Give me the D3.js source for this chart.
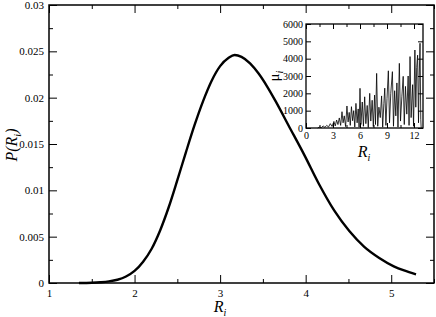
<!DOCTYPE html>
<html>
<head>
<meta charset="utf-8">
<script src="https://cdn.jsdelivr.net/npm/d3@7"></script>
<style>
  body { margin: 0; background: #fff; }
  svg, svg text { font-family: "Liberation Serif", "DejaVu Serif", serif; }
</style>
</head>
<body>
<div id="chart"></div>
<script>
// main curve: probability distribution of R_i
const radius = [1.35, 1.5, 1.6, 1.7, 1.8, 1.9, 2.0, 2.1, 2.2, 2.3, 2.4, 2.5, 2.6, 2.7, 2.8, 2.9, 3.0, 3.1, 3.17, 3.25,
    3.35, 3.45, 3.55, 3.65, 3.8, 3.985, 4.16, 4.335, 4.51, 4.685, 4.86, 5.03, 5.15, 5.29];
const prob = [0, 0.00003, 0.00008, 0.00017, 0.00035, 0.0007, 0.0013, 0.0023, 0.0037, 0.0057, 0.0082, 0.0111, 0.0141,
    0.017, 0.0196, 0.0218, 0.0234, 0.0243, 0.0246, 0.0244, 0.0237, 0.0226, 0.0212, 0.0196, 0.017, 0.0138, 0.0106,
    0.0078, 0.0056, 0.0039, 0.0027, 0.0018, 0.00135, 0.00094];

// inset: mu_i versus R_i
const insetR = [1.3, 1.5, 1.7, 1.9, 2.1, 2.3, 2.5, 2.7, 2.9, 3.1, 3.25, 3.4, 3.55, 3.7, 3.85, 4.0, 4.12, 4.25, 4.4, 4.55,
    4.68, 4.8, 4.92, 5.05, 5.18, 5.3, 5.42, 5.55, 5.68, 5.8, 5.9, 6.0, 6.1, 6.25, 6.38, 6.52, 6.65, 6.8, 6.92, 7.08,
    7.2, 7.35, 7.48, 7.62, 7.72, 7.85, 7.97, 8.1, 8.25, 8.4, 8.52, 8.65, 8.75, 8.88, 9.0, 9.15, 9.28, 9.42, 9.6, 9.72,
    9.85, 9.98, 10.1, 10.22, 10.37, 10.5, 10.65, 10.8, 10.92, 11.05, 11.2, 11.35, 11.45, 11.56, 11.68, 11.85, 11.95,
    12.1, 12.2, 12.3, 12.4, 12.5, 12.58, 12.67, 12.75, 12.8];
const insetMu = [0, 60, 20, 120, 40, 150, 60, 250, 90, 380, 120, 460, 200, 580, 150, 940, 300, 700, 80, 1270,
    350, 900, 150, 1230, 420, 1000, 60, 1420, 300, 1100, 50, 2290, 200, 1500, 100, 1800, 250, 1300, 30, 2000,
    400, 1600, 80, 1900, 200, 3150, 100, 1200, 600, 1850, 50, 1400, 2300, 150, 1700, 3300, 300, 2000, 3250, 100,
    2150, 700, 2600, 50, 3730, 400, 1800, 2980, 200, 2400, 800, 3000, 150, 4120, 600, 2500, 100,
    4500, 1200, 3500, 4200, 300, 3000, 4890, 500, 0];

const mainXTicks = [1, 2, 3, 4, 5];
const mainYTicks = [0, 0.005, 0.01, 0.015, 0.02, 0.025, 0.03];
const insetXTicks = [0, 3, 6, 9, 12];
const insetYTicks = [0, 1000, 2000, 3000, 4000, 5000, 6000];

const width = 436, height = 317;
const main = { left: 49, right: 434, top: 5, bottom: 283 };
const inset = { left: 306, right: 423, top: 24, bottom: 128 };
const serif = "Liberation Serif";

const svg = d3.select("#chart").append("svg")
    .attr("width", width)
    .attr("height", height);

const x = d3.scaleLinear().domain([1, 5.5]).range([main.left, main.right]);
const y = d3.scaleLinear().domain([0, 0.03]).range([main.bottom, main.top]);

// mirrored inward ticks on all four sides
function frameTicks(g, xs, ys, box, xVals, yVals, isMajorX, isMajorY, major, minor) {
    g.append("g").attr("transform", "translate(0," + box.bottom + ")")
        .call(d3.axisBottom(xs).tickValues(xVals).tickSize(0).tickFormat(""))
        .selectAll("line").attr("y2", d => isMajorX(d) ? -major : -minor);
    g.append("g").attr("transform", "translate(0," + box.top + ")")
        .call(d3.axisTop(xs).tickValues(xVals).tickSize(0).tickFormat(""))
        .selectAll("line").attr("y2", d => isMajorX(d) ? major : minor);
    g.append("g").attr("transform", "translate(" + box.left + ",0)")
        .call(d3.axisLeft(ys).tickValues(yVals).tickSize(0).tickFormat(""))
        .selectAll("line").attr("x2", d => isMajorY(d) ? major : minor);
    g.append("g").attr("transform", "translate(" + box.right + ",0)")
        .call(d3.axisRight(ys).tickValues(yVals).tickSize(0).tickFormat(""))
        .selectAll("line").attr("x2", d => isMajorY(d) ? -major : -minor);
    g.selectAll(".domain").remove();
    g.selectAll("line").attr("stroke", "#000").attr("stroke-width", 1);
}

frameTicks(svg.append("g"), x, y, main,
    d3.range(1, 5.51, 0.5), d3.range(0, 0.0301, 0.0025),
    d => mainXTicks.includes(d), d => mainYTicks.some(v => Math.abs(v - d) < 1e-9), 8, 4);

svg.append("g").attr("transform", "translate(0," + main.bottom + ")")
    .call(d3.axisBottom(x).tickValues(mainXTicks).tickSize(0).tickPadding(6).tickFormat(d3.format("d")))
    .call(g => g.select(".domain").remove())
    .attr("font-family", serif).attr("font-size", 11);

svg.append("g").attr("transform", "translate(" + main.left + ",0)")
    .call(d3.axisLeft(y).tickValues(mainYTicks).tickSize(0).tickPadding(5).tickFormat(d => d === 0 ? "0" : String(+d.toFixed(3))))
    .call(g => g.select(".domain").remove())
    .attr("font-family", serif).attr("font-size", 11);

const line = d3.line()
    .x((d, i) => x(radius[i]))
    .y(d => y(d))
    .curve(d3.curveMonotoneX);

svg.append("path")
    .datum(prob)
    .attr("fill", "none")
    .attr("stroke", "#000")
    .attr("stroke-width", 2.4)
    .attr("d", line);

svg.append("rect")
    .attr("x", main.left).attr("y", main.top)
    .attr("width", main.right - main.left).attr("height", main.bottom - main.top)
    .attr("fill", "none").attr("stroke", "#000").attr("stroke-width", 1.5);

// axis titles
const xTitle = svg.append("text")
    .attr("x", 220).attr("y", 312)
    .attr("text-anchor", "middle")
    .attr("font-size", 16).attr("font-style", "italic");
xTitle.append("tspan").text("R");
xTitle.append("tspan").attr("font-size", 10).attr("dy", 4).text("i");

const yTitle = svg.append("text")
    .attr("transform", "translate(17,145) rotate(-90)")
    .attr("text-anchor", "middle")
    .attr("font-size", 16).attr("font-style", "italic");
yTitle.append("tspan").text("P(R");
yTitle.append("tspan").attr("font-size", 10).attr("dy", 4).text("i");
yTitle.append("tspan").attr("dy", -4).text(")");

// inset
const ix = d3.scaleLinear().domain([0, 13]).range([inset.left, inset.right]);
const iy = d3.scaleLinear().domain([0, 6000]).range([inset.bottom, inset.top]);

frameTicks(svg.append("g"), ix, iy, inset,
    d3.range(0, 13, 1.5), insetYTicks,
    d => insetXTicks.includes(d), d => true, 5, 3);

const insetLine = d3.line()
    .x((d, i) => ix(insetR[i]))
    .y(d => iy(d));

svg.append("path")
    .datum(insetMu)
    .attr("fill", "none")
    .attr("stroke", "#000")
    .attr("stroke-width", 0.8)
    .attr("d", insetLine);

svg.append("rect")
    .attr("x", inset.left).attr("y", inset.top)
    .attr("width", inset.right - inset.left).attr("height", inset.bottom - inset.top)
    .attr("fill", "none").attr("stroke", "#000").attr("stroke-width", 1.3);

svg.append("g").attr("transform", "translate(0," + inset.bottom + ")")
    .call(d3.axisBottom(ix).tickValues(insetXTicks).tickSize(0).tickPadding(4).tickFormat(d3.format("d")))
    .call(g => g.select(".domain").remove())
    .attr("font-family", serif).attr("font-size", 10);

svg.append("g").attr("transform", "translate(" + inset.left + ",0)")
    .call(d3.axisLeft(iy).tickValues(insetYTicks).tickSize(0).tickPadding(3).tickFormat(d3.format("d")))
    .call(g => g.select(".domain").remove())
    .attr("font-family", serif).attr("font-size", 10);

const ixTitle = svg.append("text")
    .attr("x", 364).attr("y", 157)
    .attr("text-anchor", "middle")
    .attr("font-size", 16).attr("font-style", "italic");
ixTitle.append("tspan").text("R");
ixTitle.append("tspan").attr("font-size", 10).attr("dy", 4).text("i");

const iyTitle = svg.append("text")
    .attr("transform", "translate(279,76) rotate(-90)")
    .attr("text-anchor", "middle")
    .attr("font-size", 15);
iyTitle.append("tspan").text("μ");
iyTitle.append("tspan").attr("font-size", 10).attr("dy", 4).attr("font-style", "italic").text("i");
</script>
</body>
</html>
